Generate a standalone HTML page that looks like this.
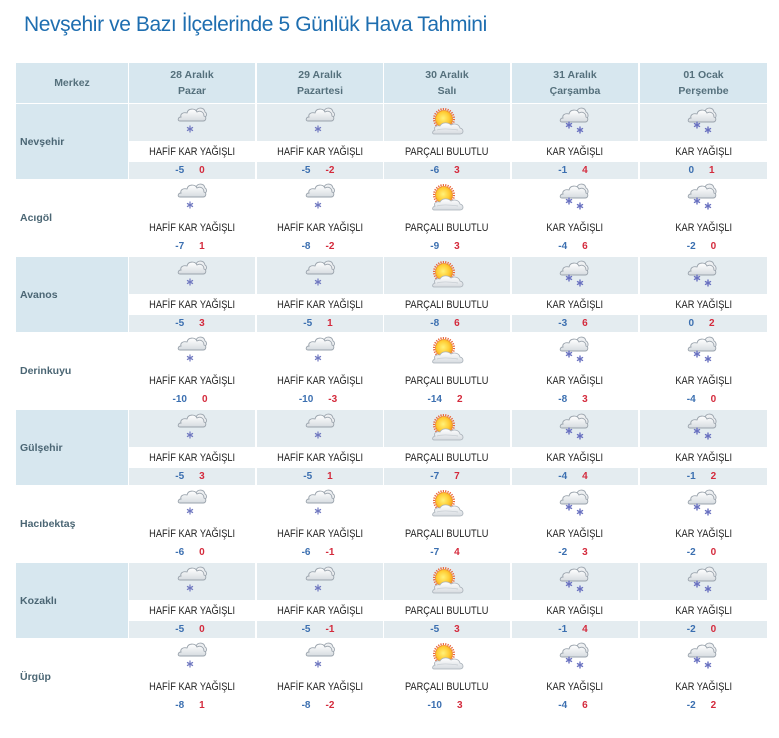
<!DOCTYPE html>
<html><head><meta charset="utf-8">
<style>
body{margin:0;width:779px;height:738px;background:#fff;position:relative;overflow:hidden;font-family:"Liberation Sans",sans-serif}
.title{position:absolute;left:24px;top:14px;font-size:21px;line-height:22px;color:#1e6eb0;letter-spacing:-0.4px;white-space:nowrap}
.h{position:absolute;top:63px;height:40px;background:#d7e7ef;color:#55707c;font-weight:bold;font-size:10.5px;text-align:center;line-height:16px;box-sizing:border-box;padding-top:4px}
.h.m{line-height:40px;padding-top:0}
.r{position:absolute;left:16px;width:751px;height:75px}
.n{position:absolute;left:0;top:0;width:112px;height:75px;line-height:76px;padding-left:4px;box-sizing:border-box;font-weight:bold;font-size:10.5px;color:#4b6674}
.c{position:absolute;top:0;width:126px;height:75px}
.c:nth-child(6){width:127px}
.ib{height:37px;position:relative}
.ib svg{position:absolute;left:43px;top:0}
.d{height:21px;line-height:22px;background:#fff;text-align:center;font-size:11px;color:#222;white-space:nowrap}
.d span{display:inline-block;transform:scaleX(0.84);transform-origin:center}
.t{height:17px;line-height:17px;text-align:center;font-weight:bold;font-size:10px;padding-right:4px;box-sizing:border-box}
.mn{color:#3b6fb0;margin-right:15px}
.mx{color:#d42a3c}
.o .n{background:#d7e7ef}
.o .ib,.o .t{background:#e4ecf0}
</style></head><body>
<svg width="0" height="0" style="position:absolute">
<defs>
<linearGradient id="cg" x1="0" y1="0" x2="0" y2="1"><stop offset="0" stop-color="#ffffff"/><stop offset="1" stop-color="#d6dbe0"/></linearGradient>
<radialGradient id="sg" cx="0.45" cy="0.45" r="0.6"><stop offset="0" stop-color="#fff27a"/><stop offset="0.6" stop-color="#ffcc33"/><stop offset="1" stop-color="#f19a1c"/></radialGradient>
<symbol id="hs" viewBox="0 0 40 36">
<path d="M24 7 C26 3 32 3 33 8 C35 9 35 12 33 13" fill="#eef0f2" stroke="#9ea7b0" stroke-width="0.9"/>
<path d="M8 17 H31 C34 17 35 13 32 12 C32 8 28 6 25 8 C23 4 16 4 15 9 C11 8 8 10 9 13 C6 13 5 17 8 17 Z" fill="url(#cg)" stroke="#9aa3ac" stroke-width="0.9"/>
<g stroke="#7078c0" stroke-width="1.2"><line x1="18" y1="21.5" x2="18" y2="28.5"/><line x1="15" y1="23.3" x2="21" y2="26.7"/><line x1="15" y1="26.7" x2="21" y2="23.3"/></g>
</symbol>
<symbol id="ky" viewBox="0 0 40 36">
<path d="M22 7 C24 3 30 3 31 8 C33 9 34 12 32 14" fill="#eef0f2" stroke="#9ea7b0" stroke-width="0.9"/>
<path d="M7 18 H30 C33 18 34 14 31 13 C31 9 27 7 24 9 C22 5 15 5 14 10 C10 9 7 11 8 14 C5 14 4 18 7 18 Z" fill="url(#cg)" stroke="#9aa3ac" stroke-width="0.9"/>
<g stroke="#6870c0" stroke-width="1.4"><line x1="14" y1="17.5" x2="14" y2="24.5"/><line x1="11" y1="19.3" x2="17" y2="22.7"/><line x1="11" y1="22.7" x2="17" y2="19.3"/>
<line x1="25" y1="22.5" x2="25" y2="29.5"/><line x1="22" y1="24.3" x2="28" y2="27.7"/><line x1="22" y1="27.7" x2="28" y2="24.3"/></g>
</symbol>
<symbol id="pb" viewBox="0 0 40 36">
<circle cx="17" cy="15" r="10" fill="none" stroke="#e8643a" stroke-width="2" stroke-dasharray="1.2 1.2"/>
<circle cx="17" cy="15" r="8.5" fill="url(#sg)" stroke="#f08a28" stroke-width="0.8"/>
<path d="M7 30 H33 C37 30 37 25 33 24 C32 20 27 19 24 21 C21 18 15 18 13 22 C9 21 6 24 8 26 C5 27 5 30 7 30 Z" fill="url(#cg)" stroke="#a8b0b8" stroke-width="0.8"/>
<path d="M10 26 C16 24 24 25 31 26" fill="none" stroke="#c3c9cf" stroke-width="0.7"/>
</symbol>
</defs>
</svg>

<div class="title">Nevşehir ve Bazı İlçelerinde 5 Günlük Hava Tahmini</div>

<div class="h m" style="left:16px;width:112px">Merkez</div>
<div class="h" style="left:129px;width:126px">28 Aralık<br>Pazar</div>
<div class="h" style="left:257px;width:126px">29 Aralık<br>Pazartesi</div>
<div class="h" style="left:384px;width:126px">30 Aralık<br>Salı</div>
<div class="h" style="left:512px;width:126px">31 Aralık<br>Çarşamba</div>
<div class="h" style="left:640px;width:127px">01 Ocak<br>Perşembe</div>

<!-- Nevşehir -->
<div class="r o" style="top:104px">
<div class="n">Nevşehir</div>
<div class="c" style="left:113px"><div class="ib"><svg width="40" height="36"><use href="#hs"/></svg></div><div class="d"><span>HAFİF KAR YAĞIŞLI</span></div><div class="t"><span class="mn">-5</span><span class="mx">0</span></div></div>
<div class="c" style="left:241px"><div class="ib"><svg width="40" height="36"><use href="#hs"/></svg></div><div class="d"><span>HAFİF KAR YAĞIŞLI</span></div><div class="t"><span class="mn">-5</span><span class="mx">-2</span></div></div>
<div class="c" style="left:368px"><div class="ib"><svg width="40" height="36"><use href="#pb"/></svg></div><div class="d"><span>PARÇALI BULUTLU</span></div><div class="t"><span class="mn">-6</span><span class="mx">3</span></div></div>
<div class="c" style="left:496px"><div class="ib"><svg width="40" height="36"><use href="#ky"/></svg></div><div class="d"><span>KAR YAĞIŞLI</span></div><div class="t"><span class="mn">-1</span><span class="mx">4</span></div></div>
<div class="c" style="left:624px"><div class="ib"><svg width="40" height="36"><use href="#ky"/></svg></div><div class="d"><span>KAR YAĞIŞLI</span></div><div class="t"><span class="mn">0</span><span class="mx">1</span></div></div>
</div>

<!-- Acıgöl -->
<div class="r" style="top:180px">
<div class="n">Acıgöl</div>
<div class="c" style="left:113px"><div class="ib"><svg width="40" height="36"><use href="#hs"/></svg></div><div class="d"><span>HAFİF KAR YAĞIŞLI</span></div><div class="t"><span class="mn">-7</span><span class="mx">1</span></div></div>
<div class="c" style="left:241px"><div class="ib"><svg width="40" height="36"><use href="#hs"/></svg></div><div class="d"><span>HAFİF KAR YAĞIŞLI</span></div><div class="t"><span class="mn">-8</span><span class="mx">-2</span></div></div>
<div class="c" style="left:368px"><div class="ib"><svg width="40" height="36"><use href="#pb"/></svg></div><div class="d"><span>PARÇALI BULUTLU</span></div><div class="t"><span class="mn">-9</span><span class="mx">3</span></div></div>
<div class="c" style="left:496px"><div class="ib"><svg width="40" height="36"><use href="#ky"/></svg></div><div class="d"><span>KAR YAĞIŞLI</span></div><div class="t"><span class="mn">-4</span><span class="mx">6</span></div></div>
<div class="c" style="left:624px"><div class="ib"><svg width="40" height="36"><use href="#ky"/></svg></div><div class="d"><span>KAR YAĞIŞLI</span></div><div class="t"><span class="mn">-2</span><span class="mx">0</span></div></div>
</div>

<!-- Avanos -->
<div class="r o" style="top:257px">
<div class="n">Avanos</div>
<div class="c" style="left:113px"><div class="ib"><svg width="40" height="36"><use href="#hs"/></svg></div><div class="d"><span>HAFİF KAR YAĞIŞLI</span></div><div class="t"><span class="mn">-5</span><span class="mx">3</span></div></div>
<div class="c" style="left:241px"><div class="ib"><svg width="40" height="36"><use href="#hs"/></svg></div><div class="d"><span>HAFİF KAR YAĞIŞLI</span></div><div class="t"><span class="mn">-5</span><span class="mx">1</span></div></div>
<div class="c" style="left:368px"><div class="ib"><svg width="40" height="36"><use href="#pb"/></svg></div><div class="d"><span>PARÇALI BULUTLU</span></div><div class="t"><span class="mn">-8</span><span class="mx">6</span></div></div>
<div class="c" style="left:496px"><div class="ib"><svg width="40" height="36"><use href="#ky"/></svg></div><div class="d"><span>KAR YAĞIŞLI</span></div><div class="t"><span class="mn">-3</span><span class="mx">6</span></div></div>
<div class="c" style="left:624px"><div class="ib"><svg width="40" height="36"><use href="#ky"/></svg></div><div class="d"><span>KAR YAĞIŞLI</span></div><div class="t"><span class="mn">0</span><span class="mx">2</span></div></div>
</div>

<!-- Derinkuyu -->
<div class="r" style="top:333px">
<div class="n">Derinkuyu</div>
<div class="c" style="left:113px"><div class="ib"><svg width="40" height="36"><use href="#hs"/></svg></div><div class="d"><span>HAFİF KAR YAĞIŞLI</span></div><div class="t"><span class="mn">-10</span><span class="mx">0</span></div></div>
<div class="c" style="left:241px"><div class="ib"><svg width="40" height="36"><use href="#hs"/></svg></div><div class="d"><span>HAFİF KAR YAĞIŞLI</span></div><div class="t"><span class="mn">-10</span><span class="mx">-3</span></div></div>
<div class="c" style="left:368px"><div class="ib"><svg width="40" height="36"><use href="#pb"/></svg></div><div class="d"><span>PARÇALI BULUTLU</span></div><div class="t"><span class="mn">-14</span><span class="mx">2</span></div></div>
<div class="c" style="left:496px"><div class="ib"><svg width="40" height="36"><use href="#ky"/></svg></div><div class="d"><span>KAR YAĞIŞLI</span></div><div class="t"><span class="mn">-8</span><span class="mx">3</span></div></div>
<div class="c" style="left:624px"><div class="ib"><svg width="40" height="36"><use href="#ky"/></svg></div><div class="d"><span>KAR YAĞIŞLI</span></div><div class="t"><span class="mn">-4</span><span class="mx">0</span></div></div>
</div>

<!-- Gülşehir -->
<div class="r o" style="top:410px">
<div class="n">Gülşehir</div>
<div class="c" style="left:113px"><div class="ib"><svg width="40" height="36"><use href="#hs"/></svg></div><div class="d"><span>HAFİF KAR YAĞIŞLI</span></div><div class="t"><span class="mn">-5</span><span class="mx">3</span></div></div>
<div class="c" style="left:241px"><div class="ib"><svg width="40" height="36"><use href="#hs"/></svg></div><div class="d"><span>HAFİF KAR YAĞIŞLI</span></div><div class="t"><span class="mn">-5</span><span class="mx">1</span></div></div>
<div class="c" style="left:368px"><div class="ib"><svg width="40" height="36"><use href="#pb"/></svg></div><div class="d"><span>PARÇALI BULUTLU</span></div><div class="t"><span class="mn">-7</span><span class="mx">7</span></div></div>
<div class="c" style="left:496px"><div class="ib"><svg width="40" height="36"><use href="#ky"/></svg></div><div class="d"><span>KAR YAĞIŞLI</span></div><div class="t"><span class="mn">-4</span><span class="mx">4</span></div></div>
<div class="c" style="left:624px"><div class="ib"><svg width="40" height="36"><use href="#ky"/></svg></div><div class="d"><span>KAR YAĞIŞLI</span></div><div class="t"><span class="mn">-1</span><span class="mx">2</span></div></div>
</div>

<!-- Hacıbektaş -->
<div class="r" style="top:486px">
<div class="n">Hacıbektaş</div>
<div class="c" style="left:113px"><div class="ib"><svg width="40" height="36"><use href="#hs"/></svg></div><div class="d"><span>HAFİF KAR YAĞIŞLI</span></div><div class="t"><span class="mn">-6</span><span class="mx">0</span></div></div>
<div class="c" style="left:241px"><div class="ib"><svg width="40" height="36"><use href="#hs"/></svg></div><div class="d"><span>HAFİF KAR YAĞIŞLI</span></div><div class="t"><span class="mn">-6</span><span class="mx">-1</span></div></div>
<div class="c" style="left:368px"><div class="ib"><svg width="40" height="36"><use href="#pb"/></svg></div><div class="d"><span>PARÇALI BULUTLU</span></div><div class="t"><span class="mn">-7</span><span class="mx">4</span></div></div>
<div class="c" style="left:496px"><div class="ib"><svg width="40" height="36"><use href="#ky"/></svg></div><div class="d"><span>KAR YAĞIŞLI</span></div><div class="t"><span class="mn">-2</span><span class="mx">3</span></div></div>
<div class="c" style="left:624px"><div class="ib"><svg width="40" height="36"><use href="#ky"/></svg></div><div class="d"><span>KAR YAĞIŞLI</span></div><div class="t"><span class="mn">-2</span><span class="mx">0</span></div></div>
</div>

<!-- Kozaklı -->
<div class="r o" style="top:563px">
<div class="n">Kozaklı</div>
<div class="c" style="left:113px"><div class="ib"><svg width="40" height="36"><use href="#hs"/></svg></div><div class="d"><span>HAFİF KAR YAĞIŞLI</span></div><div class="t"><span class="mn">-5</span><span class="mx">0</span></div></div>
<div class="c" style="left:241px"><div class="ib"><svg width="40" height="36"><use href="#hs"/></svg></div><div class="d"><span>HAFİF KAR YAĞIŞLI</span></div><div class="t"><span class="mn">-5</span><span class="mx">-1</span></div></div>
<div class="c" style="left:368px"><div class="ib"><svg width="40" height="36"><use href="#pb"/></svg></div><div class="d"><span>PARÇALI BULUTLU</span></div><div class="t"><span class="mn">-5</span><span class="mx">3</span></div></div>
<div class="c" style="left:496px"><div class="ib"><svg width="40" height="36"><use href="#ky"/></svg></div><div class="d"><span>KAR YAĞIŞLI</span></div><div class="t"><span class="mn">-1</span><span class="mx">4</span></div></div>
<div class="c" style="left:624px"><div class="ib"><svg width="40" height="36"><use href="#ky"/></svg></div><div class="d"><span>KAR YAĞIŞLI</span></div><div class="t"><span class="mn">-2</span><span class="mx">0</span></div></div>
</div>

<!-- Ürgüp -->
<div class="r" style="top:639px">
<div class="n">Ürgüp</div>
<div class="c" style="left:113px"><div class="ib"><svg width="40" height="36"><use href="#hs"/></svg></div><div class="d"><span>HAFİF KAR YAĞIŞLI</span></div><div class="t"><span class="mn">-8</span><span class="mx">1</span></div></div>
<div class="c" style="left:241px"><div class="ib"><svg width="40" height="36"><use href="#hs"/></svg></div><div class="d"><span>HAFİF KAR YAĞIŞLI</span></div><div class="t"><span class="mn">-8</span><span class="mx">-2</span></div></div>
<div class="c" style="left:368px"><div class="ib"><svg width="40" height="36"><use href="#pb"/></svg></div><div class="d"><span>PARÇALI BULUTLU</span></div><div class="t"><span class="mn">-10</span><span class="mx">3</span></div></div>
<div class="c" style="left:496px"><div class="ib"><svg width="40" height="36"><use href="#ky"/></svg></div><div class="d"><span>KAR YAĞIŞLI</span></div><div class="t"><span class="mn">-4</span><span class="mx">6</span></div></div>
<div class="c" style="left:624px"><div class="ib"><svg width="40" height="36"><use href="#ky"/></svg></div><div class="d"><span>KAR YAĞIŞLI</span></div><div class="t"><span class="mn">-2</span><span class="mx">2</span></div></div>
</div>

</body></html>
